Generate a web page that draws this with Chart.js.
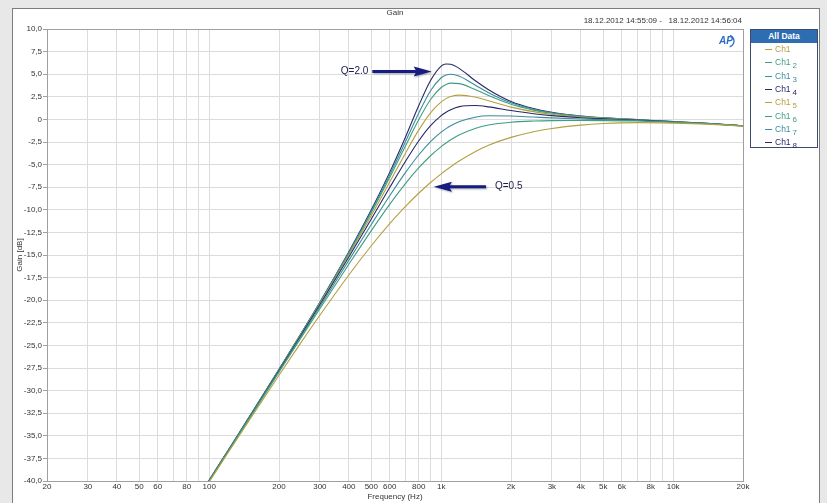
<!DOCTYPE html>
<html>
<head>
<meta charset="utf-8">
<script src="https://cdn.jsdelivr.net/npm/chart.js@4.4.0/dist/chart.umd.min.js"></script>
<style>
html, body { margin: 0; padding: 0; background: #e8e8e8; }
#wrap { position: relative; width: 827px; height: 503px; overflow: hidden; }
#panel { position: absolute; left: 12px; top: 8px; width: 806px; height: 500px; background: #fff; border: 1px solid #7c7c7c; }
#myChart { position: absolute; left: 0; top: 0; }
#legend { position: absolute; left: 750px; top: 29px; width: 66px; height: 117px; border: 1px solid #3d4c6e; background: #fff;
  font-family: "Liberation Sans", Arial, sans-serif; font-size: 8.5px; }
#legend .hdr { background: #2f6db3; color: #fff; font-weight: bold; text-align: center; height: 13px; line-height: 13px; }
#legend .item { position: relative; height: 13.35px; line-height: 12px; padding-left: 24px; }
#legend .item span.ln { position: absolute; left: 14px; top: 6px; width: 7px; height: 1px; }
#legend sub { font-size: 8px; vertical-align: -3px; margin-left: 2px; }
</style>
</head>
<body>
<div id="wrap">
  <div id="panel"></div>
  <canvas id="myChart" width="827" height="503"></canvas>
  <div id="legend"><div class="hdr">All Data</div></div>
</div>
<script>
const freqs = [90, 100, 120, 150, 200, 250, 300, 400, 500, 600, 700, 800, 900, 1000, 1050, 1100, 1200, 1400, 1600, 2000, 2500, 3000, 4000, 5000, 7000, 10000, 14000, 20000];

// Q = 0.5 ... 2.0
const gainCh1 = [-41.9, -40.1, -36.96, -33.15, -28.3, -24.61, -21.67, -17.21, -13.98, -11.54, -9.66, -8.17, -6.98, -6.02, -5.61, -5.23, -4.58, -3.58, -2.86, -1.99, -1.36, -1.0, -0.63, -0.46, -0.36, -0.41, -0.52, -0.74];
const gainCh2 = [-41.8, -40.0, -36.83, -32.96, -27.97, -24.1, -20.95, -16.03, -12.3, -9.4, -7.13, -5.37, -4.02, -3.01, -2.61, -2.26, -1.71, -1.0, -0.62, -0.31, -0.18, -0.13, -0.12, -0.13, -0.18, -0.32, -0.48, -0.72];
const gainCh3 = [-41.8, -39.97, -36.79, -32.9, -27.86, -23.93, -20.71, -15.59, -11.62, -8.45, -5.92, -3.94, -2.46, -1.41, -1.02, -0.7, -0.23, 0.24, 0.4, 0.37, 0.26, 0.17, 0.05, -0.02, -0.13, -0.29, -0.47, -0.72];
const gainCh4 = [-41.8, -39.95, -36.76, -32.85, -27.77, -23.79, -20.51, -15.22, -11.01, -7.54, -4.68, -2.39, -0.7, 0.42, 0.8, 1.08, 1.41, 1.53, 1.39, 0.98, 0.63, 0.42, 0.19, 0.07, -0.08, -0.27, -0.46, -0.71];
const gainCh5 = [-41.8, -39.94, -36.75, -32.83, -27.72, -23.71, -20.39, -14.99, -10.63, -6.93, -3.79, -1.19, 0.73, 1.94, 2.3, 2.53, 2.69, 2.47, 2.07, 1.36, 0.86, 0.57, 0.27, 0.12, -0.06, -0.26, -0.45, -0.71];
const gainCh6 = [-41.8, -39.93, -36.73, -32.81, -27.69, -23.66, -20.31, -14.82, -10.32, -6.43, -2.99, -0.05, 2.2, 3.53, 3.86, 4.01, 3.96, 3.31, 2.64, 1.67, 1.03, 0.68, 0.33, 0.15, -0.04, -0.25, -0.45, -0.7];
const gainCh7 = [-41.8, -39.93, -36.73, -32.8, -27.67, -23.63, -20.26, -14.73, -10.16, -6.15, -2.53, 0.67, 3.17, 4.61, 4.92, 5.0, 4.77, 3.8, 2.95, 1.83, 1.12, 0.74, 0.35, 0.17, -0.03, -0.25, -0.44, -0.7];
const gainCh8 = [-41.8, -39.92, -36.72, -32.79, -27.65, -23.6, -20.22, -14.64, -10.0, -5.86, -2.03, 1.5, 4.3, 5.9, 6.13, 6.1, 5.62, 4.3, 3.29, 1.99, 1.21, 0.79, 0.38, 0.19, -0.02, -0.24, -0.44, -0.7];

const seriesLabels = ["Ch1", "Ch1 2", "Ch1 3", "Ch1 4", "Ch1 5", "Ch1 6", "Ch1 7", "Ch1 8"];
const seriesGains = [gainCh1, gainCh2, gainCh3, gainCh4, gainCh5, gainCh6, gainCh7, gainCh8];
const seriesColors = ['#b4a040', '#3e9e82', '#3b8c9c', '#26286a', '#b4a040', '#3e9e82', '#3b8c9c', '#26286a'];

const xTicks = [20, 30, 40, 50, 60, 70, 80, 90, 100, 200, 300, 400, 500, 600, 700, 800, 900, 1000, 2000, 3000, 4000, 5000, 6000, 7000, 8000, 9000, 10000, 20000];
const xTickLabels = ['20', '30', '40', '50', '60', '', '80', '', '100', '200', '300', '400', '500', '600', '', '800', '', '1k', '2k', '3k', '4k', '5k', '6k', '', '8k', '', '10k', '20k'];

const notes = [
    { text: 'Q=2.0', tipHz: 910, tipDb: 5.3, tailHz: 505 },
    { text: 'Q=0.5', tipHz: 930, tipDb: -7.45, tailHz: 1560 },
];

const FONT = '"Liberation Sans", Arial, sans-serif';

// legend box
const legendEl = document.getElementById('legend');
seriesLabels.forEach((name, i) => {
    const parts = name.split(' ');
    const item = document.createElement('div');
    item.className = 'item';
    item.style.color = seriesColors[i];
    item.innerHTML = '<span class="ln" style="background:' + seriesColors[i] + '"></span>' + parts[0] + (parts[1] ? '<sub>' + parts[1] + '</sub>' : '');
    legendEl.appendChild(item);
});

function drawArrow(ctx, tipX, tipY, tailX) {
    const dir = tipX > tailX ? 1 : -1;
    const headLen = 16, headH = 5, shaft = 1.6;
    const baseX = tipX - dir * headLen;
    ctx.beginPath();
    ctx.moveTo(tailX, tipY - shaft);
    ctx.lineTo(baseX, tipY - shaft);
    ctx.lineTo(baseX - dir * 2, tipY - headH);
    ctx.lineTo(tipX, tipY);
    ctx.lineTo(baseX - dir * 2, tipY + headH);
    ctx.lineTo(baseX, tipY + shaft);
    ctx.lineTo(tailX, tipY + shaft);
    ctx.closePath();
    ctx.fill();
}

const overlay = {
    id: 'overlay',
    afterDraw(chart) {
        const { ctx, chartArea: a, scales: { x, y } } = chart;
        ctx.save();
        // plot frame
        ctx.strokeStyle = '#a0a0a0';
        ctx.lineWidth = 1;
        ctx.strokeRect(a.left + 0.5, a.top + 0.5, a.right - a.left, a.bottom - a.top);

        ctx.fillStyle = '#333';
        ctx.font = '8px ' + FONT;
        ctx.textBaseline = 'middle';
        ctx.textAlign = 'center';
        ctx.fillText('Gain', (a.left + a.right) / 2, 13);
        ctx.textAlign = 'right';
        ctx.fillText('18.12.2012 14:55:09 -   18.12.2012 14:56:04', a.right - 1, 21);

        // AP logo
        ctx.fillStyle = '#2a6cc4';
        ctx.font = 'italic bold 10px ' + FONT;
        ctx.textAlign = 'center';
        ctx.fillText('AP', a.right - 17, a.top + 12);
        ctx.strokeStyle = '#2a6cc4';
        ctx.lineWidth = 1.3;
        ctx.beginPath();
        ctx.arc(a.right - 15, a.top + 12, 6, -1.2, 1.3);
        ctx.stroke();

        // Q annotations
        ctx.font = '10px ' + FONT;
        notes.forEach(n => {
            const tipX = x.getPixelForValue(n.tipHz);
            const tipY = y.getPixelForValue(n.tipDb);
            const tailX = x.getPixelForValue(n.tailHz);
            ctx.shadowColor = 'rgba(0,0,40,0.35)';
            ctx.shadowBlur = 2;
            ctx.shadowOffsetX = 1;
            ctx.shadowOffsetY = 1;
            ctx.fillStyle = '#161c80';
            drawArrow(ctx, tipX, tipY, tailX);
            ctx.shadowColor = 'transparent';
            ctx.fillStyle = '#1c1c50';
            if (tailX < tipX) {
                ctx.textAlign = 'right';
                ctx.fillText(n.text, tailX - 4, tipY);
            } else {
                ctx.textAlign = 'left';
                ctx.fillText(n.text, tailX + 9, tipY);
            }
        });
        ctx.restore();
    }
};

const ctx = document.getElementById('myChart').getContext('2d');

const data = {
    datasets: seriesGains.map((g, i) => ({
        label: seriesLabels[i],
        data: freqs.map((f, j) => ({ x: f, y: g[j] })),
        borderColor: seriesColors[i],
        borderWidth: 1.1,
        pointRadius: 0,
        fill: false,
        cubicInterpolationMode: 'monotone',
    })),
};

const config = {
    type: 'line',
    data: data,
    options: {
        responsive: false,
        animation: false,
        layout: {
            padding: { left: 0, top: 29, right: 84, bottom: 0 },
        },
        scales: {
            x: {
                type: 'logarithmic',
                min: 20,
                max: 20000,
                afterBuildTicks: (scale) => {
                    scale.ticks = xTicks.map(v => ({ value: v }));
                },
                afterFit: (scale) => { scale.height = 22; },
                grid: { color: '#dcdcdc', drawTicks: false },
                border: { color: '#a0a0a0' },
                ticks: {
                    autoSkip: false,
                    maxRotation: 0,
                    padding: 1,
                    color: '#333',
                    font: { family: FONT, size: 8 },
                    callback: (value, index) => xTickLabels[index],
                },
                title: {
                    display: true,
                    text: 'Frequency (Hz)',
                    color: '#333',
                    font: { family: FONT, size: 8 },
                    padding: { top: 0, bottom: 1 },
                },
            },
            y: {
                min: -40,
                max: 10,
                afterFit: (scale) => { scale.width = 47; },
                grid: { color: '#dcdcdc', tickColor: '#a0a0a0', tickLength: 4 },
                border: { color: '#a0a0a0' },
                ticks: {
                    stepSize: 2.5,
                    padding: 1,
                    color: '#333',
                    font: { family: FONT, size: 8 },
                    callback: (v) => v === 0 ? '0' : v.toFixed(1).replace('.', ','),
                },
                title: {
                    display: true,
                    text: 'Gain [dB]',
                    color: '#333',
                    font: { family: FONT, size: 8 },
                    padding: { top: 15, bottom: 0 },
                },
            },
        },
        plugins: {
            legend: { display: false },
            tooltip: { enabled: false },
        },
    },
    plugins: [overlay],
};

const myChart = new Chart(ctx, config);
</script>
</body>
</html>
